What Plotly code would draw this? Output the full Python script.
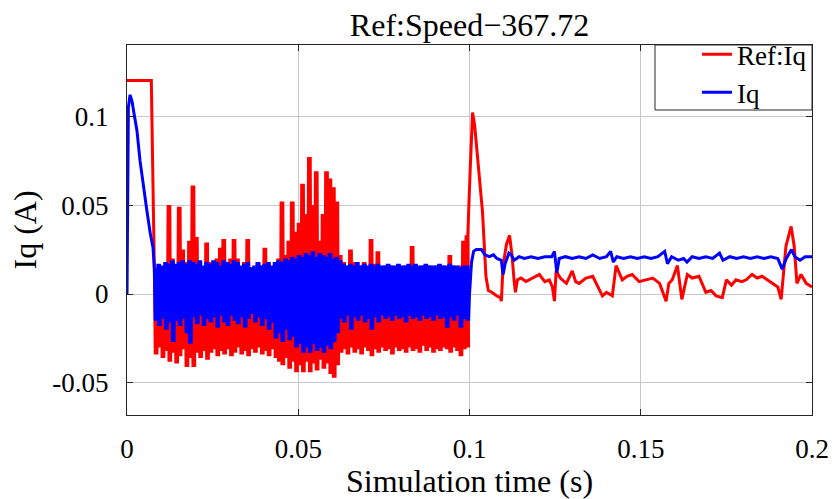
import plotly.graph_objects as go

# ---------------- data ----------------
# Start-up segment
red_start_t = [0.0, 0.0069, 0.0071]
red_start_v = [0.120, 0.120, 0.120]

blue_start_t = [0.0, 0.0004, 0.0009, 0.0015, 0.0020, 0.0029, 0.0038, 0.0048, 0.0058, 0.0068, 0.0076]
blue_start_v = [0.0, 0.105, 0.112, 0.108, 0.102, 0.092, 0.075, 0.060, 0.047, 0.034, 0.026]

# Dense switching region: envelope sampled every 1 ms (t = 0.008 ... 0.099 s)
dense_ms = list(range(8, 100))

red_hi = [0.012, 0.015, 0.012, 0.014, 0.050, 0.020, 0.015, 0.049, 0.025, 0.018,
          0.030, 0.061, 0.032, 0.018, 0.015, 0.029, 0.018, 0.015, 0.020, 0.026,
          0.031, 0.018, 0.020, 0.031, 0.020, 0.015, 0.018, 0.031, 0.015, 0.014,
          0.018, 0.016, 0.026, 0.018, 0.015, 0.016, 0.020, 0.052, 0.022, 0.030,
          0.052, 0.035, 0.040, 0.062, 0.045, 0.077, 0.050, 0.069, 0.030, 0.045,
          0.069, 0.065, 0.060, 0.052, 0.022, 0.018, 0.016, 0.025, 0.018, 0.015,
          0.016, 0.018, 0.015, 0.031, 0.017, 0.024, 0.015, 0.016, 0.015, 0.016,
          0.015, 0.016, 0.015, 0.016, 0.015, 0.027, 0.016, 0.015, 0.016, 0.015,
          0.016, 0.015, 0.016, 0.015, 0.016, 0.015, 0.022, 0.016, 0.015, 0.016,
          0.030, 0.033]
red_lo = [-0.034, -0.030, -0.036, -0.032, -0.038, -0.033, -0.039, -0.035, -0.031, -0.041,
          -0.036, -0.041, -0.033, -0.036, -0.032, -0.037, -0.033, -0.031, -0.035, -0.032,
          -0.034, -0.031, -0.035, -0.033, -0.030, -0.034, -0.032, -0.035, -0.031, -0.033,
          -0.030, -0.034, -0.032, -0.035, -0.031, -0.036, -0.038, -0.040, -0.036, -0.042,
          -0.038, -0.044, -0.040, -0.044, -0.038, -0.044, -0.039, -0.043, -0.037, -0.042,
          -0.039, -0.045, -0.047, -0.040, -0.033, -0.031, -0.034, -0.030, -0.033, -0.031,
          -0.034, -0.030, -0.032, -0.035, -0.031, -0.033, -0.030, -0.032, -0.031, -0.034,
          -0.030, -0.032, -0.031, -0.033, -0.030, -0.032, -0.031, -0.033, -0.029, -0.032,
          -0.030, -0.033, -0.031, -0.032, -0.030, -0.031, -0.033, -0.030, -0.032, -0.035,
          -0.031, -0.030]
blue_hi = [0.014, 0.017, 0.016, 0.018, 0.017, 0.019, 0.017, 0.018, 0.019, 0.017,
           0.019, 0.018, 0.017, 0.019, 0.016, 0.018, 0.017, 0.019, 0.018, 0.016,
           0.019, 0.018, 0.017, 0.019, 0.018, 0.016, 0.017, 0.018, 0.015, 0.016,
           0.018, 0.016, 0.017, 0.018, 0.016, 0.018, 0.019, 0.018, 0.020, 0.019,
           0.021, 0.020, 0.022, 0.021, 0.023, 0.022, 0.024, 0.021, 0.023, 0.022,
           0.021, 0.023, 0.020, 0.021, 0.019, 0.017, 0.016, 0.017, 0.016, 0.018,
           0.016, 0.017, 0.016, 0.017, 0.016, 0.017, 0.016, 0.016, 0.017, 0.016,
           0.016, 0.017, 0.016, 0.016, 0.017, 0.016, 0.017, 0.016, 0.016, 0.017,
           0.016, 0.016, 0.016, 0.017, 0.016, 0.016, 0.017, 0.016, 0.016, 0.015,
           0.016, 0.016]
blue_lo = [-0.015, -0.018, -0.014, -0.020, -0.016, -0.027, -0.015, -0.018, -0.014, -0.022,
           -0.028, -0.013, -0.017, -0.012, -0.018, -0.014, -0.016, -0.013, -0.019, -0.012,
           -0.016, -0.018, -0.012, -0.015, -0.017, -0.013, -0.019, -0.014, -0.011, -0.016,
           -0.013, -0.018, -0.014, -0.020, -0.016, -0.025, -0.022, -0.027, -0.020, -0.026,
           -0.024, -0.030, -0.028, -0.033, -0.030, -0.033, -0.028, -0.032, -0.030, -0.033,
           -0.029, -0.031, -0.027, -0.022, -0.014, -0.016, -0.012, -0.020, -0.013, -0.015,
           -0.012, -0.016, -0.014, -0.020, -0.013, -0.016, -0.012, -0.014, -0.013, -0.015,
           -0.012, -0.014, -0.013, -0.016, -0.012, -0.014, -0.013, -0.015, -0.012, -0.014,
           -0.013, -0.015, -0.012, -0.014, -0.013, -0.019, -0.013, -0.015, -0.012, -0.019,
           -0.014, -0.015]

# After the step at 0.1 s
red_end_t = [0.0995, 0.1002, 0.1009, 0.1015, 0.1025, 0.1038, 0.1048, 0.1055, 0.1065, 0.1079,
             0.1090, 0.1093, 0.1098, 0.1108, 0.1117, 0.1124, 0.1130, 0.1134, 0.1140, 0.1150,
             0.1165, 0.1184, 0.1204, 0.1220, 0.1233, 0.1242, 0.1248, 0.1253, 0.1265, 0.1283,
             0.1300, 0.1310, 0.1320, 0.1340, 0.1360, 0.1375, 0.1388, 0.1400, 0.1417, 0.1428,
             0.1446, 0.1460, 0.1475, 0.1495, 0.1516, 0.1535, 0.1555, 0.1574, 0.1582, 0.1592,
             0.1607, 0.1620, 0.1636, 0.1650, 0.1670, 0.1690, 0.1705, 0.1720, 0.1738, 0.1750,
             0.1765, 0.1778, 0.1795, 0.1808, 0.1825, 0.1840, 0.1854, 0.1870, 0.1883, 0.1900,
             0.1910, 0.1924, 0.1939, 0.1948, 0.1956, 0.1968, 0.1983, 0.2000]
red_end_v = [0.033, 0.070, 0.102, 0.095, 0.072, 0.046, 0.010, 0.002, 0.001, -0.001,
             -0.002, -0.004, 0.016, 0.028, 0.033, 0.022, 0.008, 0.001, 0.008, 0.009,
             0.007, 0.009, 0.011, 0.007, 0.008, 0.004, -0.004, 0.013, 0.009, 0.006,
             0.013, 0.007, 0.006, 0.009, 0.010, 0.004, -0.001, 0.001, -0.001, 0.016,
             0.008, 0.010, 0.011, 0.007, 0.008, 0.009, 0.006, -0.004, 0.006, 0.008,
             0.016, -0.003, 0.011, 0.009, 0.010, 0.001, 0.002, -0.001, -0.002, 0.008,
             0.005, 0.008, 0.007, 0.008, 0.011, 0.009, 0.010, 0.008, 0.006, 0.004,
             -0.003, 0.027, 0.038, 0.027, 0.006, 0.011, 0.006, 0.004]

blue_end_t = [0.1000, 0.1006, 0.1012, 0.1020, 0.1035, 0.1045, 0.1058, 0.1070, 0.1080, 0.1093,
              0.1098, 0.1104, 0.1115, 0.1122, 0.1130, 0.1145, 0.1160, 0.1180, 0.1200, 0.1220,
              0.1240, 0.1248, 0.1255, 0.1262, 0.1280, 0.1300, 0.1320, 0.1340, 0.1360, 0.1380,
              0.1400, 0.1412, 0.1420, 0.1430, 0.1450, 0.1470, 0.1490, 0.1510, 0.1530, 0.1550,
              0.1570, 0.1578, 0.1590, 0.1610, 0.1625, 0.1635, 0.1650, 0.1670, 0.1690, 0.1710,
              0.1730, 0.1740, 0.1760, 0.1780, 0.1800, 0.1820, 0.1840, 0.1860, 0.1880, 0.1900,
              0.1913, 0.1925, 0.1940, 0.1950, 0.1965, 0.1980, 0.2000]
blue_end_v = [0.000, 0.018, 0.024, 0.025, 0.025, 0.022, 0.021, 0.022, 0.020, 0.019,
              0.011, 0.017, 0.023, 0.022, 0.019, 0.021, 0.020, 0.021, 0.020, 0.021,
              0.021, 0.024, 0.012, 0.020, 0.021, 0.020, 0.021, 0.020, 0.022, 0.020,
              0.021, 0.024, 0.018, 0.021, 0.020, 0.021, 0.020, 0.021, 0.020, 0.021,
              0.024, 0.017, 0.021, 0.019, 0.020, 0.018, 0.021, 0.020, 0.021, 0.020,
              0.023, 0.019, 0.021, 0.020, 0.021, 0.020, 0.021, 0.020, 0.021, 0.020,
              0.014, 0.020, 0.025, 0.021, 0.019, 0.021, 0.021]

x_tick_vals = [0, 0.05, 0.1, 0.15, 0.2]
x_tick_text = ["0", "0.05", "0.1", "0.15", "0.2"]
y_tick_vals = [-0.05, 0, 0.05, 0.1]
y_tick_text = ["-0.05", "0", "0.05", "0.1"]

# ---------------- build traces ----------------
def build(start_t, start_v, hi, lo, end_t, end_v):
    """Dense PWM-like switching: two hi/lo swings per 1 ms envelope sample."""
    xs, ys = list(start_t), list(start_v)
    for k, h, l in zip(dense_ms, hi, lo):
        t = k / 1000.0
        xs += [t, t + 0.00025, t + 0.0005, t + 0.00075]
        ys += [h, l, h, l]
    xs += end_t
    ys += end_v
    return xs, ys

assert len(red_hi) == len(red_lo) == len(blue_hi) == len(blue_lo) == len(dense_ms)
assert len(red_end_t) == len(red_end_v) and len(blue_end_t) == len(blue_end_v)

rx, ry = build(red_start_t, red_start_v, red_hi, red_lo, red_end_t, red_end_v)
bx, by = build(blue_start_t, blue_start_v, blue_hi, blue_lo, blue_end_t, blue_end_v)

FONT = '"Liberation Serif", "Times New Roman", Times, serif'

fig = go.Figure()
fig.add_trace(go.Scatter(x=rx, y=ry, mode="lines", name="Ref:Iq",
                         line=dict(color="#ff0000", width=3)))
fig.add_trace(go.Scatter(x=bx, y=by, mode="lines", name="Iq",
                         line=dict(color="#0000ff", width=3)))

axis_common = dict(
    showline=True, linecolor="#262626", linewidth=1, mirror="ticks",
    ticks="inside", ticklen=6, tickcolor="#262626",
    showgrid=True, gridcolor="#c8c8c8", gridwidth=1, zeroline=False,
    automargin=False,
    tickfont=dict(family=FONT, size=27, color="#000000"),
)

fig.update_layout(
    width=835, height=499,
    margin=dict(l=127, r=23, t=45, b=84),
    paper_bgcolor="white", plot_bgcolor="white",
    title=dict(text="Ref:Speed\u2212367.72", x=0.5, xref="paper",
               y=0.95, yref="container", yanchor="middle",
               font=dict(family=FONT, size=32, color="#000000")),
    xaxis=dict(range=[0, 0.2], tickvals=x_tick_vals, ticktext=x_tick_text,
               ticklabelstandoff=10,
               title=dict(text="Simulation time (s)", standoff=6,
                          font=dict(family=FONT, size=32, color="#000000")),
               **axis_common),
    yaxis=dict(range=[-0.068, 0.14], tickvals=y_tick_vals, ticktext=y_tick_text,
               ticklabelstandoff=12,
               title=dict(text="Iq (A)", standoff=6,
                          font=dict(family=FONT, size=32, color="#000000")),
               **axis_common),
    legend=dict(x=1, y=1.04, xanchor="right", yanchor="top",
                bgcolor="rgba(0,0,0,0)", borderwidth=0,
                font=dict(family=FONT, size=27, color="#000000"),
                tracegroupgap=0),
    showlegend=True,
    shapes=[dict(type="rect", xref="paper", yref="paper",
                 x0=(655 - 127) / 685, x1=1, y0=(415 - 110) / 370, y1=1,
                 line=dict(color="#262626", width=1),
                 fillcolor="white", layer="below")],
)

fig.write_html("out.html")
